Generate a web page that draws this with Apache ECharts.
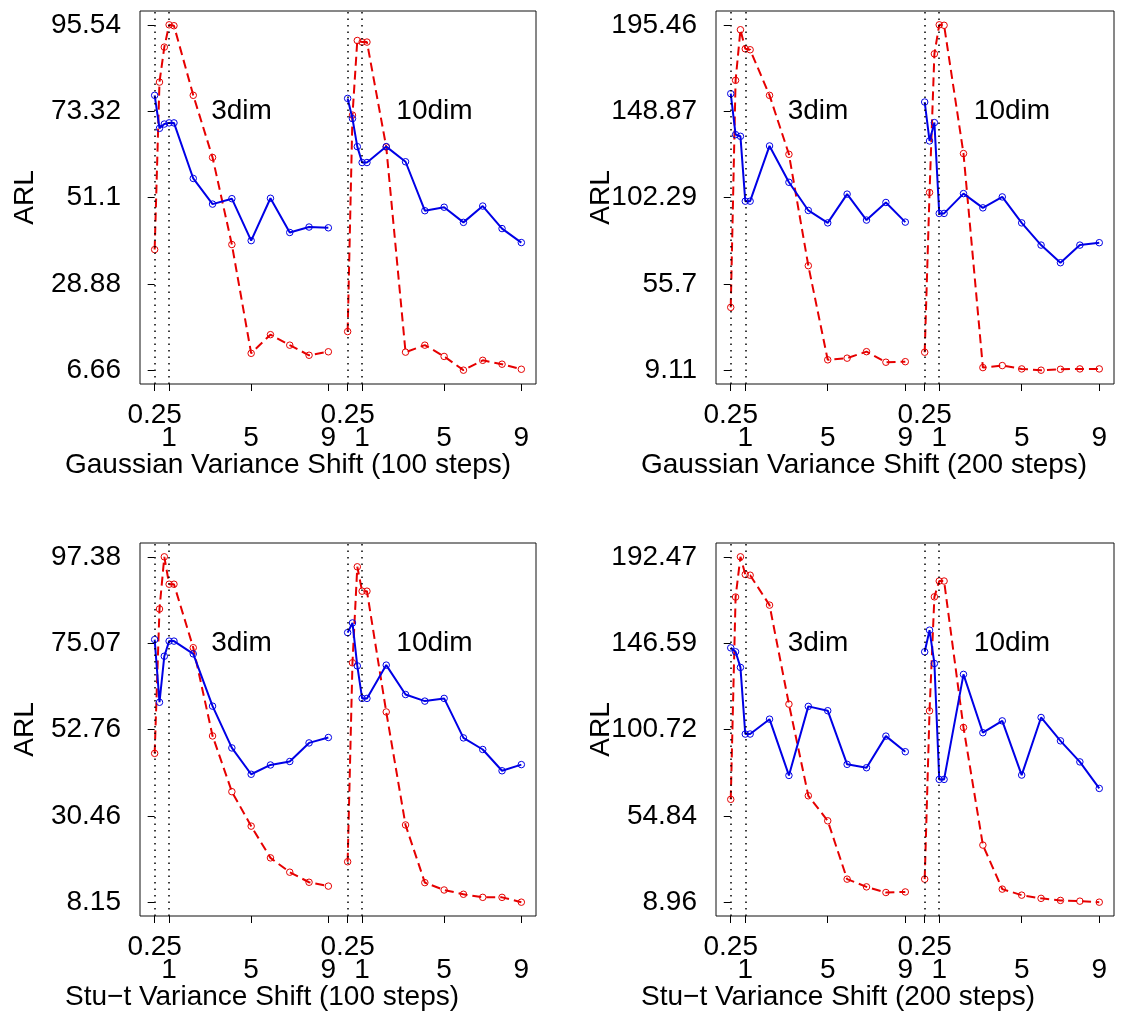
<!DOCTYPE html>
<html>
<head>
<meta charset="utf-8">
<script src="https://cdn.jsdelivr.net/npm/echarts@6/dist/echarts.min.js"></script>
<style>
html,body{margin:0;padding:0;background:#fff;}
#chart{width:1125px;height:1011px;}
</style>
</head>
<body>
<div id="chart"></div>
<script>
// ---- x positions (segment 1 = 3dim, segment 2 = 10dim) ----
const xPos3  = [0, 0.25, 0.5, 0.75, 1, 2, 3, 4, 5, 6, 7, 8, 9];
const xPos10 = [10, 10.25, 10.5, 10.75, 11, 12, 13, 14, 15, 16, 17, 18, 19];
const xTickPos  = [0, 0.75, 5, 9, 10, 10.75, 15, 19];
const xRow1Pos  = [0, 10];
const xRow1Text = ["0.25", "0.25"];
const xRow2Pos  = [0.75, 5, 9, 10.75, 15, 19];
const xRow2Text = ["1", "5", "9", "1", "5", "9"];
const dottedX = [0, 0.75, 10, 10.75];
const segLabels = ["3dim", "10dim"];
const segLabelX = [4.5, 14.5];

// ---- Panel 1: Gaussian, 100 steps ----
const g100Ticks  = ["6.66", "28.88", "51.1", "73.32", "95.54"];
const g100Blue3  = [77.4, 68.9, 70.0, 70.3, 70.3, 56.0, 49.4, 50.8, 40.0, 50.9, 42.1, 43.5, 43.3];
const g100Red3   = [37.7, 80.8, 89.8, 95.54, 95.3, 77.4, 61.4, 39.0, 11.0, 15.8, 13.1, 10.5, 11.4];
const g100Blue10 = [76.6, 71.4, 64.2, 60.1, 60.1, 64.2, 60.3, 47.7, 48.6, 44.7, 48.9, 43.1, 39.5];
const g100Red10  = [16.6, 72.3, 91.5, 91.1, 91.1, 64.1, 11.3, 13.1, 10.2, 6.66, 9.2, 8.2, 6.9];

// ---- Panel 2: Gaussian, 200 steps ----
const g200Ticks  = ["9.11", "55.7", "102.29", "148.87", "195.46"];
const g200Blue3  = [158.3, 136.2, 135.3, 100.3, 100.3, 130.1, 110.5, 95.3, 88.6, 104.1, 90.1, 99.6, 89.0];
const g200Red3   = [43.0, 165.5, 192.8, 182.5, 182.0, 157.4, 125.6, 65.5, 14.7, 15.6, 19.1, 13.4, 13.7];
const g200Blue10 = [153.8, 132.8, 142.7, 93.7, 93.7, 104.4, 96.7, 102.6, 88.6, 76.6, 67.1, 76.6, 77.9];
const g200Red10  = [18.8, 105.0, 179.8, 195.46, 195.2, 126.0, 10.5, 11.6, 9.8, 9.11, 9.6, 9.8, 9.8];

// ---- Panel 3: Stu-t, 100 steps ----
const t100Ticks  = ["8.15", "30.46", "52.76", "75.07", "97.38"];
const t100Blue3  = [76.0, 59.8, 71.7, 75.6, 75.6, 72.3, 58.8, 48.0, 41.2, 43.6, 44.5, 49.3, 50.7];
const t100Red3   = [46.6, 83.9, 97.38, 90.3, 90.3, 73.9, 51.1, 36.7, 27.8, 19.6, 15.9, 13.3, 12.3];
const t100Blue10 = [77.8, 80.3, 69.2, 60.8, 60.8, 69.4, 61.8, 60.1, 60.8, 50.6, 47.6, 42.1, 43.7];
const t100Red10  = [18.6, 70.0, 94.8, 88.5, 88.5, 57.3, 28.1, 13.2, 11.3, 10.2, 9.4, 9.4, 8.15];

// ---- Panel 4: Stu-t, 200 steps ----
const t200Ticks  = ["8.96", "54.84", "100.72", "146.59", "192.47"];
const t200Blue3  = [144.1, 142.0, 133.7, 98.3, 98.3, 106.2, 76.3, 113.0, 110.7, 82.2, 80.4, 97.2, 88.9];
const t200Red3   = [63.6, 171.1, 192.47, 183.1, 182.7, 166.8, 114.2, 65.5, 52.2, 21.2, 17.1, 14.1, 14.4];
const t200Blue10 = [142.0, 153.5, 135.8, 74.2, 74.2, 130.0, 99.0, 105.3, 76.5, 107.1, 94.7, 83.5, 69.4];
const t200Red10  = [21.2, 110.6, 171.2, 179.6, 179.6, 101.8, 39.3, 15.9, 12.7, 11.0, 9.9, 9.5, 8.96];

const xTitles = [
  "Gaussian Variance Shift (100 steps)",
  "Gaussian Variance Shift (200 steps)",
  "Stu\u2212t Variance Shift (100 steps)",
  "Stu\u2212t Variance Shift (200 steps)"
];
const yTitle = "ARL";

const panels = [
  {ticks: g100Ticks, b3: g100Blue3, r3: g100Red3, b10: g100Blue10, r10: g100Red10},
  {ticks: g200Ticks, b3: g200Blue3, r3: g200Red3, b10: g200Blue10, r10: g200Red10},
  {ticks: t100Ticks, b3: t100Blue3, r3: t100Red3, b10: t100Blue10, r10: t100Red10},
  {ticks: t200Ticks, b3: t200Blue3, r3: t200Red3, b10: t200Blue10, r10: t200Red10}
];

// ---- layout ----
const FONT = "Liberation Sans, Arial, Helvetica, sans-serif";
const FS = 28;
const BLUE = "#0000E6";
const RED = "#E60000";
const gridBoxes = [
  {left: 140, top: 11,  width: 396, height: 373},
  {left: 716, top: 11,  width: 398, height: 373},
  {left: 140, top: 543, width: 396, height: 373},
  {left: 716, top: 543, width: 398, height: 373}
];

const grids = [], xAxes = [], yAxes = [], series = [], graphics = [];

const lookup = (posArr, txtArr) => (v) => {
  const k = posArr.findIndex(q => Math.abs(q - v) < 1e-6);
  return k >= 0 ? txtArr[k] : "";
};

panels.forEach((p, i) => {
  const g = gridBoxes[i];
  grids.push(Object.assign({show: true, borderColor: "#111", borderWidth: 1, backgroundColor: "transparent"}, g));
  const tv = p.ticks.map(Number);
  const pad = (tv[4] - tv[0]) * 0.04;
  const xi = xAxes.length;
  // main x axis: ticks + second-row labels
  xAxes.push({
    type: "value", gridIndex: i, position: "bottom", min: -0.76, max: 19.76,
    axisLine: {show: false}, splitLine: {show: false},
    axisTick: {show: true, customValues: xTickPos, length: 7, inside: false,
               lineStyle: {color: "#000", width: 1}},
    axisLabel: {show: true, customValues: xRow2Pos, margin: 19.5 + 23,
      showMinLabel: true, showMaxLabel: true,
      color: "#000", fontFamily: FONT, fontSize: FS, lineHeight: 23,
      formatter: lookup(xRow2Pos, xRow2Text)}
  });
  // label-only x axis: first-row labels
  xAxes.push({
    type: "value", gridIndex: i, position: "bottom", offset: 0, min: -0.76, max: 19.76,
    axisLine: {show: false}, splitLine: {show: false}, axisTick: {show: false},
    axisLabel: {show: true, customValues: xRow1Pos, margin: 19.5,
      showMinLabel: true, showMaxLabel: true,
      color: "#000", fontFamily: FONT, fontSize: FS, lineHeight: 23,
      formatter: lookup(xRow1Pos, xRow1Text)}
  });
  yAxes.push({
    type: "value", gridIndex: i, min: tv[0] - pad, max: tv[4] + pad,
    axisLine: {show: false}, splitLine: {show: false},
    axisTick: {show: true, customValues: tv, length: 7, inside: false,
               lineStyle: {color: "#000", width: 1}},
    axisLabel: {show: true, customValues: tv, margin: 19,
      showMinLabel: true, showMaxLabel: true,
      color: "#000", fontFamily: FONT, fontSize: FS,
      formatter: lookup(tv, p.ticks)}
  });

  const mk = (xs, ys) => xs.map((x, j) => [x, ys[j]]);
  const lineSeries = (data, color, dashed, withMarks) => {
    const s = {
      type: "line", xAxisIndex: xi, yAxisIndex: i, data: data,
      symbol: "circle", symbolSize: 6.5, showSymbol: true,
      itemStyle: {color: "rgba(0,0,0,0)", borderColor: color, borderWidth: 1},
      lineStyle: {color: color, width: 2, type: dashed ? [9, 5] : "solid"},
      silent: true, animation: false, z: dashed ? 3 : 4
    };
    if (withMarks) {
      s.markLine = {
        silent: true, animation: false, symbol: ["none", "none"],
        label: {show: false},
        lineStyle: {color: "#000", type: [1.5, 5], width: 1.5},
        data: dottedX.map(x => ({xAxis: x}))
      };
    }
    return s;
  };
  series.push(lineSeries(mk(xPos3, p.r3), RED, true, true));
  series.push(lineSeries(mk(xPos10, p.r10), RED, true, false));
  series.push(lineSeries(mk(xPos3, p.b3), BLUE, false, false));
  series.push(lineSeries(mk(xPos10, p.b10), BLUE, false, false));
  series.push({
    type: "scatter", xAxisIndex: xi, yAxisIndex: i, silent: true, animation: false,
    symbolSize: 0, itemStyle: {color: "#000", opacity: 1},
    label: {show: true, position: "inside", formatter: "{b}", color: "#000",
            opacity: 1, textBorderWidth: 0, fontFamily: FONT, fontSize: FS},
    data: segLabels.map((t, k) => ({name: t, value: [segLabelX[k], tv[3]]}))
  });

  // axis titles
  graphics.push({
    type: "text", x: g.left - 115, y: g.top + g.height / 2, rotation: Math.PI / 2,
    silent: true,
    style: {text: yTitle, fill: "#000", font: FS + "px " + FONT,
            textAlign: "center", textVerticalAlign: "middle"}
  });
  graphics.push({
    type: "text", x: g.left - 75, y: g.top + g.height + 81, silent: true,
    style: {text: xTitles[i], fill: "#000", font: FS + "px " + FONT,
            textAlign: "left", textVerticalAlign: "middle"}
  });
});

const chart = echarts.init(document.getElementById("chart"), null, {renderer: "canvas"});
chart.setOption({
  animation: false,
  backgroundColor: "#fff",
  grid: grids, xAxis: xAxes, yAxis: yAxes, series: series,
  graphic: graphics
});
</script>
</body>
</html>
